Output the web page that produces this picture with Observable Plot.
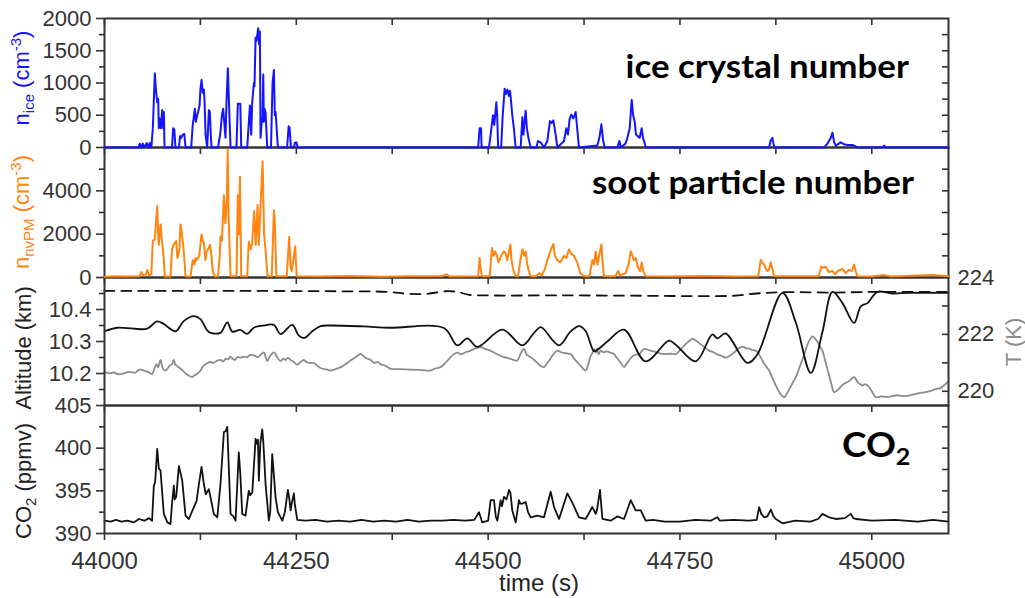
<!DOCTYPE html>
<html>
<head>
<meta charset="utf-8">
<script src="https://cdn.jsdelivr.net/npm/d3@7"></script>
<script src="https://cdn.jsdelivr.net/npm/@observablehq/plot@0.6"></script>
<style>
  html, body { margin: 0; padding: 0; background: #fff; }
  #chart { position: relative; width: 1025px; height: 598px; overflow: hidden; }
  #chart svg { position: absolute; left: 0; top: 0; }
</style>
</head>
<body>
<div id="chart"></div>
<script>
// ---- time axis ----
const timeDomain = [44000, 45100];
const timeTicks = d3.range(44000, 45101, 125);
const timeLabels = [44000, 44250, 44500, 44750, 45000];

// ---- ice crystal number n_ice (cm^-3): [time (s), value] ----
const iceSeries = [
  [44000,0],[44044,0],[44046,60],[44048,0],[44050,60],[44052,0],[44055,70],[44057,0],[44059,70],[44061,0],
  [44063,300],[44065.6,1150],[44067,900],[44068.7,700],[44070,750],[44070.8,300],[44072,450],[44073.5,300],
  [44075.2,580],[44076.5,300],[44077.4,550],[44078.2,0],
  [44088,0],[44089.5,300],[44091,280],[44092.5,0],
  [44097,0],[44098.5,180],[44100,150],[44102,200],[44104,210],[44105.6,0],
  [44113,0],[44115,350],[44117.8,600],[44119,400],[44120.8,500],[44122,550],[44123.9,650],[44125,900],
  [44126.5,1050],[44128,850],[44129.5,900],[44130.5,700],[44131.7,200],[44133.9,0],[44135,300],[44136,580],
  [44137.3,550],[44138.5,200],[44139.5,0],
  [44148,0],[44150,150],[44151.2,250],[44153,500],[44154.7,600],[44156,400],[44157.7,150],[44159,700],
  [44160.8,1230],[44162.5,600],[44164.3,0],
  [44172,0],[44173.8,680],[44177,680],[44178.2,0],
  [44186,0],[44189.5,650],[44191.2,200],[44192.5,700],[44194.7,1000],[44195.5,950],[44196.9,1700],[44198,1650],
  [44200.3,1850],[44201.5,1600],[44202.5,1800],[44203.4,150],[44205.1,450],[44206,400],[44206.9,1130],
  [44207.7,400],[44208.5,600],[44209.9,550],[44212.1,0],
  [44217,0],[44219,1000],[44220.8,1200],[44222,500],[44223,550],[44226,0],
  [44238,0],[44240,330],[44241.2,310],[44243,0],
  [44247,0],[44248,70],[44250,80],[44252,0],
  [44487,0],[44488.9,300],[44490.7,300],[44491.5,0],
  [44501,0],[44503.3,200],[44506.3,500],[44508,350],[44510.7,700],[44511.8,500],[44513,0],[44517,0],
  [44519,500],[44521.5,910],[44523,830],[44525,900],[44527,800],[44528.5,880],[44530,700],[44531.5,500],
  [44533.5,300],[44535.9,0],
  [44542.4,0],[44544.6,470],[44546,200],[44548.9,570],[44550.5,300],[44552.5,150],[44555.4,0],
  [44563,0],[44565,100],[44568.5,80],[44572.8,0],
  [44577.1,100],[44580.6,410],[44582.8,380],[44585,420],[44588,200],[44590.2,0],
  [44598.9,100],[44601.9,300],[44604,200],[44606.3,450],[44608.4,510],[44611,450],[44614.1,550],[44616,300],[44618.4,0],
  [44642.3,30],[44645,150],[44647.6,360],[44650,100],[44652,0],
  [44668.4,0],[44671,100],[44673,0],[44679,60],[44681.5,150],[44684.5,300],[44687.1,740],[44689,500],
  [44691,400],[44692.7,200],[44694.5,180],[44697.5,150],[44700.1,300],[44701.8,150],[44703.2,100],[44705.4,0],
  [44866.2,0],[44868,100],[44870.5,150],[44871.9,60],[44873.1,0],
  [44937.9,0],[44942.2,60],[44946.6,150],[44948.8,230],[44951,80],[44953.1,30],[44959.6,80],[44964,50],
  [44968.3,40],[44974.8,40],[44981.4,0],
  [45014,0],[45016.1,30],[45018,0],[45100,0]
];

// ---- non-volatile particle number n_nvPM (cm^-3) ----
const nvpmSeries = [
  [44000,40],[44015,60],[44030,45],[44046,60],[44048,250],[44050,100],[44054,150],[44056,350],[44058,100],
  [44061,150],[44063,1700],[44065.6,1750],[44067,2500],[44068.7,3300],[44070,2000],[44070.8,1500],
  [44072.5,2300],[44073.3,2450],[44074.5,1800],[44075.5,1500],[44077.4,800],[44078.5,50],
  [44086,50],[44088,1300],[44090,1500],[44093.4,1680],[44095,900],[44097.5,1200],[44099.1,2450],[44101,2000],
  [44102.5,1500],[44104,900],[44105.6,60],
  [44112,50],[44115,800],[44117,600],[44118.5,900],[44120,800],[44123.5,1000],[44126.5,1990],[44128,1700],
  [44129.5,1600],[44131.5,800],[44133,1200],[44135,1300],[44137.5,1500],[44139.5,1000],[44141,300],[44144,50],
  [44148,60],[44150,900],[44151.2,1900],[44153,1700],[44155.6,3800],[44157.5,2500],[44159.5,3500],
  [44160.5,5900],[44162,2500],[44164.3,60],
  [44172,60],[44173.8,3800],[44175,2000],[44176.5,4650],[44178.2,60],
  [44186,60],[44188,1660],[44190.5,1300],[44192.5,1600],[44195,3070],[44197,1500],[44199.5,3350],
  [44201,1500],[44203,3000],[44206,5360],[44208,2000],[44210,1200],[44212.5,60],
  [44218,60],[44220.8,3100],[44222,2500],[44224,60],
  [44237.5,60],[44240.7,1875],[44242.5,500],[44244,300],[44246.5,900],[44248.5,1440],[44250.5,60],
  [44280,50],[44320,70],[44360,40],[44400,55],[44440,60],[44446,150],[44450,50],
  [44487,60],[44488.9,900],[44490.7,300],[44492,60],
  [44502,60],[44505,1360],[44507,1000],[44509,1200],[44511.5,1000],[44513.5,700],[44517,1000],[44520.7,1210],
  [44523,1100],[44525,800],[44529,1520],[44530.5,800],[44532,500],[44534,200],[44536,60],
  [44539,60],[44542,800],[44544.6,1300],[44547,1000],[44548.9,1200],[44551,600],[44553,300],[44555.4,60],
  [44562,60],[44566.3,200],[44570,100],[44574,400],[44577.1,800],[44582,1300],[44585,1550],[44587,1000],
  [44590.2,800],[44594,700],[44598.9,1000],[44602,900],[44605.4,1290],[44608,1100],[44611.9,1000],
  [44616,700],[44620,200],[44625,60],
  [44632,60],[44635.8,800],[44638,600],[44640.2,1200],[44642.4,600],[44644,900],[44647.6,1520],[44649,700],[44651,60],
  [44666,60],[44669.3,300],[44672,100],[44679,200],[44683,600],[44685.8,1210],[44688,1000],[44690,800],
  [44692.3,900],[44695,500],[44698,300],[44700.2,700],[44702,300],[44705.4,60],
  [44740,50],[44780,70],[44820,50],
  [44852,60],[44855.3,820],[44857,700],[44859.7,600],[44862,400],[44864,300],[44866,350],[44868.4,700],
  [44870.5,400],[44872.7,60],
  [44931,60],[44934.4,510],[44937,450],[44940,500],[44944,250],[44948.8,300],[44952,150],[44956,300],
  [44961.8,400],[44966,200],[44970,350],[44974,300],[44977,600],[44979,300],[44981.4,60],
  [45000,50],[45016,110],[45025,50],[45050,80],[45080,120],[45100,60]
];

// ---- aircraft altitude (km), solid ----
const altitudeSeries = [
  [44000,10.332],[44016.5,10.343],[44038,10.34],[44055.6,10.34],[44068.6,10.363],[44077,10.355],
  [44092.6,10.332],[44103,10.363],[44116.5,10.379],[44125,10.37],[44136,10.33],[44151,10.327],
  [44160,10.36],[44166.5,10.331],[44177,10.336],[44186,10.324],[44194.7,10.343],[44207.7,10.35],
  [44220.7,10.352],[44229.5,10.323],[44244.7,10.352],[44253,10.319],[44260,10.311],[44270.8,10.332],
  [44281.6,10.348],[44294.7,10.35],[44338,10.347],[44372,10.343],[44442.4,10.342],[44459.8,10.288],
  [44472.9,10.31],[44485.9,10.283],[44518.5,10.337],[44544.6,10.288],[44560,10.328],[44568.4,10.345],
  [44572.8,10.338],[44592.3,10.288],[44607,10.33],[44618.4,10.348],[44627,10.333],[44638,10.27],
  [44643,10.275],[44655.4,10.3],[44677,10.337],[44705.3,10.238],[44735.7,10.303],[44744.5,10.29],
  [44770.5,10.238],[44792.3,10.322],[44798.8,10.31],[44809.7,10.325],[44838,10.233],[44851,10.26],
  [44883.6,10.452],[44900.9,10.36],[44920.5,10.202],[44935.7,10.33],[44948.8,10.455],[44961.8,10.42],
  [44977,10.358],[44985.7,10.41],[44994.4,10.42],[45007.4,10.455],[45027,10.45],[45048.7,10.452],[45100,10.452]
];

// ---- second altitude trace (km), dashed ----
const altitudeDashedSeries = [
  [44000,10.458],[44100,10.458],[44200,10.458],[44300,10.457],[44370,10.455],[44395,10.449],[44420,10.449],
  [44445,10.457],[44460,10.455],[44475,10.446],[44500,10.444],[44600,10.444],[44700,10.443],[44760,10.442],
  [44820,10.443],[44850,10.45],[44880,10.454],[44950,10.453],[45000,10.455],[45100,10.455]
];

// ---- temperature T (K) ----
const temperatureSeries = [
  [44000,220.67],[44006,220.63],[44012,220.66],[44018,220.6],[44025.2,220.63],[44032,220.68],[44040,220.66],
  [44046,220.76],[44051.3,220.73],[44057,220.68],[44062.1,220.61],[44065,220.8],[44068,220.95],[44070,220.85],
  [44073,221.1],[44076,220.8],[44079.5,220.73],[44085,220.9],[44088,220.95],[44090.4,221.1],[44092,220.95],
  [44094,220.9],[44099.1,220.8],[44103,220.7],[44107,220.6],[44110,220.55],[44114.3,220.5],[44117,220.56],
  [44120,220.6],[44125.2,220.73],[44129,220.9],[44133.9,220.99],[44138,221.03],[44142,221.0],[44147,221.08],
  [44151.2,221.1],[44155,221.05],[44158,221.15],[44161,221.12],[44164.3,221.22],[44167,221.14],[44170,221.1],
  [44173,221.2],[44177.3,221.18],[44182,221.22],[44186,221.2],[44190,221.28],[44194.7,221.26],[44200,221.2],
  [44204,221.3],[44207.7,221.37],[44210,221.2],[44212.1,221.06],[44216,221.25],[44220.8,221.37],[44225,221.2],
  [44229.5,221.06],[44233,221.15],[44236,221.1],[44239,221.18],[44242.5,221.1],[44246,221.05],[44251.2,220.94],
  [44255,221.02],[44259.9,221.1],[44263,221.03],[44266,221.0],[44272.9,220.99],[44278,220.88],[44283,220.8],
  [44289,220.77],[44294.7,220.73],[44301,220.78],[44308,220.85],[44314,220.95],[44320.7,221.08],[44327,221.2],
  [44333.8,221.31],[44338,221.22],[44342,221.15],[44347,221.1],[44351.2,221.0],[44356,221.03],[44360,220.95],
  [44366,220.9],[44372.9,220.79],[44385,220.78],[44400,220.76],[44412,220.75],[44425,220.73],[44431,220.8],
  [44438.1,220.85],[44446,221.05],[44455.5,221.31],[44460,221.36],[44465,221.3],[44471,221.38],[44477.2,221.43],
  [44483,221.5],[44490.2,221.55],[44497,221.48],[44505,221.4],[44512,221.3],[44520.7,221.2],[44528,221.15],
  [44533,221.1],[44538,221.08],[44542,221.3],[44546.7,221.49],[44550,221.3],[44555.4,221.2],[44560,221.1],
  [44564,221.0],[44568,220.9],[44572.8,220.85],[44576,220.95],[44580,221.1],[44585,221.3],[44590.2,221.43],
  [44594,221.38],[44598,221.35],[44603,221.33],[44607.6,221.31],[44612,221.15],[44617,221.0],[44622,220.85],
  [44627.1,220.73],[44630,220.9],[44633,221.2],[44636,221.35],[44638,221.49],[44640,221.35],[44642,221.5],
  [44644,221.3],[44646.7,221.43],[44650,221.38],[44655,221.4],[44660,221.35],[44664.1,221.31],[44667,221.2],
  [44670,221.1],[44674,220.95],[44677.1,220.85],[44680,220.95],[44684,221.1],[44687,221.2],[44690.1,221.26],
  [44694,221.3],[44697,221.3],[44700,221.4],[44703.2,221.49],[44709,221.45],[44716,221.4],[44722,221.35],
  [44729.3,221.31],[44737,221.32],[44744.5,221.31],[44750,221.45],[44755,221.6],[44760,221.72],[44766.2,221.84],
  [44771,221.78],[44777,221.65],[44782,221.55],[44788,221.43],[44793,221.38],[44798,221.3],[44804,221.25],
  [44809.7,221.18],[44815,221.25],[44820,221.35],[44826,221.5],[44831.4,221.57],[44836,221.52],[44840,221.5],
  [44844,221.45],[44848.8,221.43],[44853,221.3],[44857,221.1],[44861,220.92],[44866.2,220.73],[44870,220.5],
  [44875,220.2],[44880,219.95],[44885.7,219.79],[44889,219.9],[44893,220.1],[44897,220.3],[44901,220.5],
  [44906,220.85],[44912,221.3],[44917,221.7],[44922.7,221.93],[44926,221.85],[44929,221.75],[44932,221.6],
  [44935.7,221.43],[44939,221.1],[44943,220.7],[44947,220.3],[44951,219.97],[44956,220.05],[44963,220.25],
  [44970,220.35],[44977,220.5],[44980,220.4],[44982,220.3],[44985,220.25],[44987.9,220.2],[44991,220.25],
  [44996.6,220.15],[45000,220.0],[45005.3,219.79],[45012,219.82],[45018,219.8],[45025,219.82],[45033,219.86],
  [45040,219.83],[45048.7,219.85],[45056,219.9],[45065,219.95],[45072,219.98],[45078,220.02],[45083.5,220.08],
  [45090,220.12],[45098.7,220.32]
];

// ---- CO2 mixing ratio (ppmv) ----
const co2Series = [
  [44000,391.5],[44008,391.4],[44015,391.6],[44022,391.4],[44030,391.5],[44038,391.3],[44045,391.7],
  [44052,391.5],[44058,391.8],[44062,391.5],[44064.3,395.6],[44066,396],[44068.7,399.9],[44070.8,397.6],
  [44073,397.4],[44075,395],[44077.3,392.3],[44082,391.3],[44086,391.1],[44088,393.5],[44090.4,395.6],
  [44091.5,394],[44093.5,394.3],[44096.9,397.9],[44098,397.5],[44101.3,396.2],[44105.6,392.1],
  [44110,391.7],[44116.5,393.1],[44120,393.8],[44123,395.8],[44126.5,397.8],[44129.5,395.8],[44132,394.6],
  [44136,395.2],[44142.5,392.3],[44147,391.9],[44151.2,395.8],[44155.6,401.9],[44158,402],[44160,402.5],
  [44164.3,392.3],[44168,392],[44170.8,391.5],[44175,399.5],[44177,397],[44179.5,392.3],[44183.8,392.1],
  [44188,395],[44190,394.5],[44192.6,394.8],[44196.9,401.1],[44199,400.5],[44200,401],[44201.2,396.2],
  [44203,400.5],[44205.6,402.2],[44207,400.7],[44210,395.7],[44214.2,391.5],[44216,392.5],[44218.6,399.3],
  [44223,394.2],[44226,392.5],[44231.7,391.5],[44235,392.5],[44239,395.1],[44241,394],[44242.5,392.7],
  [44244,393.5],[44246.8,394.7],[44248,393.5],[44251.2,391.6],[44262,391.5],[44275,391.6],[44290,391.4],
  [44305,391.5],[44320,391.4],[44335,391.6],[44350,391.4],[44365,391.5],[44380,391.4],[44395,391.6],
  [44410,391.4],[44425,391.5],[44440,391.5],[44455,391.6],[44470,391.5],[44482,391.6],[44488.1,392.5],
  [44492.4,391.3],[44500,391.5],[44503.3,393.9],[44507.6,393.9],[44510,392],[44512,391.5],[44516.3,393.9],
  [44518,393.2],[44520.7,394.3],[44524,394],[44527.2,395.1],[44529,394.8],[44531.5,392.7],[44535.9,391.3],
  [44540.2,393.9],[44542,393.5],[44544.6,393.5],[44548.9,393.7],[44552,392.5],[44555.4,391.9],
  [44564.1,392.1],[44572.8,391.9],[44581.5,394.9],[44585.9,393.1],[44592.4,391.7],[44603.2,394.7],
  [44609.8,393.6],[44618.4,391.9],[44627.1,391.7],[44635.8,393.1],[44640.2,392.3],[44642,392.8],
  [44645.8,395.1],[44648.9,391.7],[44659.7,391.5],[44668.4,392],[44677.1,391.7],[44685.8,393.9],
  [44692.3,392.7],[44698.8,392.7],[44705.4,391.5],[44715,391.6],[44730,391.4],[44750,391.4],[44770,391.6],
  [44790,391.5],[44798.8,391.9],[44802,391.5],[44820,391.6],[44840,391.5],[44850,391.6],[44853.2,393.1],
  [44856,392.3],[44859.7,391.9],[44864,392],[44868.4,392.8],[44872,392],[44874.9,391.7],[44883.6,391.2],
  [44900,391.5],[44920,391.4],[44930,391.7],[44935.7,392.3],[44940,392.1],[44944.4,391.9],[44953.1,391.7],
  [44965,391.8],[44972.7,392.3],[44976,391.8],[44979.2,391.7],[45000,391.5],[45030,391.6],[45060,391.4],
  [45080,391.6],[45100,391.4]
];

// ---- y-axis ticks per panel ----
const iceTicks = [0, 500, 1000, 1500, 2000];
const iceMinorTicks = [250, 750, 1250, 1750];
const nvpmTicks = [0, 2000, 4000];
const nvpmMinorTicks = [1000, 3000, 5000];
const altitudeTicks = [10.2, 10.3, 10.4];
const altitudeMinorTicks = [10.15, 10.25, 10.35, 10.45];
const temperatureTicks = [220, 222, 224];
const temperatureMinorTicks = [220, 221, 222, 223];
const co2Ticks = [390, 395, 400, 405];
const co2MinorTicks = [392.5, 397.5, 402.5];

// ---- layout ----
const W = 1025, H = 598, LEFT = 104, RIGHT = 948;
const panelTop = [18, 147, 277, 405];
const panelBottom = [147, 277, 405, 533];
const FONT = "Liberation Sans, Arial, sans-serif";
const INK = "#333";
const BLUE = "#1414ff", ORANGE = "#ff8410", GRAY = "#8c8c8c";

const num = d => String(d);
const blank = () => "";

function leftAxis(majors, minors) {
  return [
    Plot.axisY({anchor: "left", ticks: majors, tickSize: 8, tickPadding: 5, label: null,
                tickFormat: num, fontSize: 22, strokeWidth: 1.6}),
    Plot.axisY({anchor: "left", ticks: minors, tickSize: 5, label: null, tickFormat: blank, strokeWidth: 1.6})
  ];
}
function rightTicks(ticks) {
  return Plot.axisY({anchor: "right", ticks, tickSize: -7, label: null, tickFormat: blank, strokeWidth: 1.6});
}
function topTicks() {
  return Plot.axisX({anchor: "top", ticks: timeTicks, tickSize: -6, label: null, tickFormat: blank, strokeWidth: 1.6});
}

function panel(i, yDomain, marks, axes = true) {
  return Plot.plot({
    width: W, height: H,
    marginLeft: LEFT, marginRight: W - RIGHT,
    marginTop: panelTop[i], marginBottom: H - panelBottom[i],
    x: {domain: timeDomain, axis: axes ? undefined : null},
    y: {domain: yDomain, axis: axes ? undefined : null},
    style: {background: "transparent", overflow: "visible", fontFamily: FONT, color: INK},
    marks
  });
}

const line = (data, stroke, extra = {}) =>
  Plot.line(data, {x: d => d[0], y: d => d[1], stroke, strokeWidth: 1.8, ...extra});

const chart = document.getElementById("chart");

// panel 1 frame and axes: ice crystals
chart.append(panel(0, [0, 2000], [
  Plot.frame({stroke: INK, strokeWidth: 2}),
  ...leftAxis(iceTicks, iceMinorTicks),
  rightTicks([250, 500, 750, 1000, 1250, 1500, 1750]),
  topTicks()
]));

// panel 2 frame and axes: soot particles
chart.append(panel(1, [0, 6000], [
  Plot.frame({stroke: INK, strokeWidth: 2}),
  ...leftAxis(nvpmTicks, nvpmMinorTicks),
  rightTicks([1000, 2000, 3000, 4000, 5000]),
  topTicks()
]));

// panel 3a: temperature on its own right-hand scale
chart.append(panel(2, [219.5, 224], [
  line(temperatureSeries, GRAY, {curve: "catmull-rom"}),
  Plot.axisY({anchor: "right", ticks: temperatureMinorTicks, tickSize: -7, label: null, tickFormat: blank, strokeWidth: 1.6}),
  Plot.axisY({anchor: "right", ticks: temperatureTicks, tickSize: 0, tickPadding: 9, label: null,
              tickFormat: num, fontSize: 22}),
  Plot.axisX({anchor: "top", ticks: [], label: null})
]));

// panel 3b: altitude
chart.append(panel(2, [10.1, 10.5], [
  line(altitudeDashedSeries, "#111", {strokeDasharray: "10,7", curve: "catmull-rom"}),
  line(altitudeSeries, "#111", {curve: "catmull-rom"}),
  ...leftAxis(altitudeTicks, altitudeMinorTicks),
  topTicks(),
  Plot.frame({stroke: INK, strokeWidth: 2})
]));

// panel 4: CO2 with the time axis
chart.append(panel(3, [390, 405], [
  line(co2Series, "#111"),
  ...leftAxis(co2Ticks, co2MinorTicks),
  rightTicks([392.5, 395, 397.5, 400, 402.5]),
  topTicks(),
  Plot.axisX({anchor: "bottom", ticks: timeTicks, tickSize: 7, tickPadding: 11, label: null,
              tickFormat: d => timeLabels.includes(d) ? String(d) : "", fontSize: 24, strokeWidth: 1.6}),
  Plot.frame({stroke: INK, strokeWidth: 2})
]));

// number-density traces on top, so their zero lines sit over the panel borders
chart.append(panel(1, [0, 6000], [line(nvpmSeries, ORANGE, {strokeWidth: 2})], false));
chart.append(panel(0, [0, 2000], [line(iceSeries, BLUE, {strokeWidth: 2})], false));

// ---- titles and annotations ----
const svg = d3.create("svg").attr("width", W).attr("height", H)
  .style("overflow", "visible").attr("font-family", FONT);

function yTitle(x, y, color, parts, size = 22) {
  const t = svg.append("text")
    .attr("transform", `translate(${x},${y}) rotate(-90)`)
    .attr("text-anchor", "middle").attr("fill", color).attr("font-size", size);
  for (const [txt, dy, fs] of parts) {
    const s = t.append("tspan").text(txt);
    if (dy) s.attr("dy", dy);
    if (fs) s.attr("font-size", fs);
  }
}
yTitle(29, 78, BLUE, [["n"], ["ice", 5, 15], [" (cm", -5], ["-3", -8, 15], [")", 8]]);
yTitle(29, 212, ORANGE, [["n"], ["nvPM", 5, 15], [" (cm", -5], ["-3", -8, 15], [")", 8]]);
yTitle(31, 348, "#222", [["Altitude (km)"]]);
yTitle(31, 481, "#222", [["CO"], ["2", 5, 15], [" (ppmv)", -5]]);
yTitle(1021, 342, GRAY, [["T (K)"]]);

svg.append("text").attr("x", 539).attr("y", 591).attr("text-anchor", "middle")
  .attr("font-size", 24).attr("fill", "#222").text("time (s)");

// bold panel annotations, set slightly wide
const BOLD = "Lato, Open Sans, sans-serif";
function annotation(x, y, anchor, size) {
  return svg.append("text")
    .attr("transform", `translate(${x},${y}) scale(1.09,1)`)
    .attr("text-anchor", anchor)
    .attr("font-family", BOLD).attr("font-weight", 700).attr("font-size", size).attr("fill", "#000");
}
annotation(909, 78, "end", 32).text("ice crystal number");
annotation(914, 194, "end", 32).text("soot particle number");
const co2Label = annotation(842, 457, "start", 34);
co2Label.append("tspan").text("CO");
co2Label.append("tspan").attr("dy", 8).attr("font-size", 23).text("2");

chart.append(svg.node());
</script>
</body>
</html>
